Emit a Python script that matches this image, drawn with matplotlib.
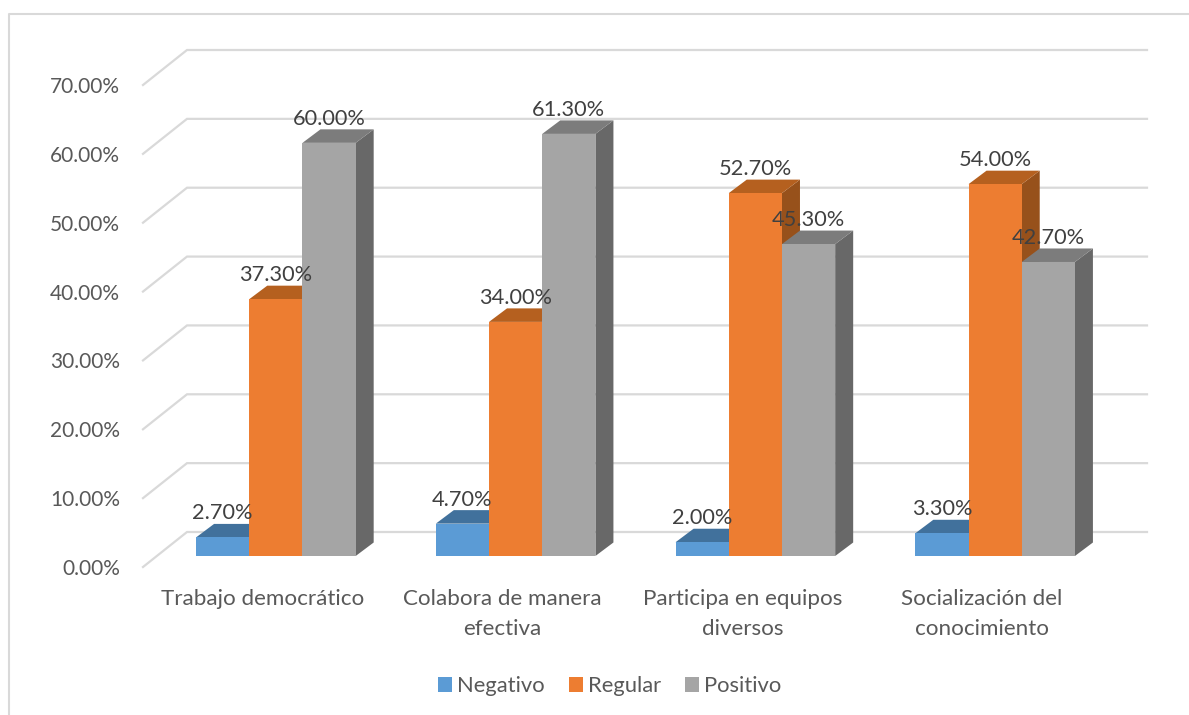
import matplotlib
matplotlib.use("Agg")
import matplotlib.pyplot as plt
from matplotlib.patches import Polygon, Patch
from matplotlib.lines import Line2D

categories = ["Trabajo democrático", "Colabora de manera\nefectiva",
              "Participa en equipos\ndiversos", "Socialización del\nconocimiento"]
series_names = ["Negativo", "Regular", "Positivo"]
negativo = [2.7, 4.7, 2.0, 3.3]
regular = [37.3, 34.0, 52.7, 54.0]
positivo = [60.0, 61.3, 45.3, 42.7]
y_ticks = [0, 10, 20, 30, 40, 50, 60, 70]

front_colors = ["#5B9BD5", "#ED7D31", "#A5A5A5"]
top_colors = ["#41719C", "#B5601F", "#7C7C7C"]
side_colors = ["#3A6590", "#97511B", "#686868"]
GRID = "#D9D9D9"
TICK = "#595959"
LABEL = "#404040"
FONT = "Lato"

W, H = 1189, 715
fig = plt.figure(figsize=(W / 100, H / 100), dpi=100, facecolor="white")
ax = fig.add_axes([143 / W, (H - 567) / H, 959 / W, 482 / H])
ax.set_xlim(-0.5, 3.5)
ax.set_ylim(0, 70)
ax.patch.set_visible(False)
for s in ax.spines.values():
    s.set_visible(False)

px_x = 4 / 959.0        # data units per pixel, horizontally
px_y = 70 / 482.0       # data units per pixel, vertically

# Chart frame (open on the right and the bottom of the picture)
fig.add_artist(Line2D([8.5 / W, 8.5 / W, 1], [0, (H - 14) / H, (H - 14) / H],
                      color="#D9D9D9", lw=1.5))

# Gridlines: along the floor of the box, then along the back wall
for t in y_ticks:
    ax.plot([-0.5, -0.5 + 44 * px_x, 3.5 + 45 * px_x],
            [t, t + 35 * px_y, t + 35 * px_y],
            color=GRID, lw=1.6, clip_on=False, zorder=1, solid_joinstyle="miter")

bar_w = 53.2 * px_x
off_x, off_y = 13 * px_x, 11 * px_y
dep_x, dep_y = 18 * px_x, 13.5 * px_y
all_series = [negativo, regular, positivo]

z = 2
for i in range(len(categories)):
    for j, vals in enumerate(all_series):
        v = vals[i]
        left = i + off_x + (j - 1.5) * bar_w
        right = left + bar_w
        base = off_y
        top = v + off_y
        ax.add_patch(Polygon([(right, base), (right + dep_x, base + dep_y),
                              (right + dep_x, top + dep_y), (right, top)],
                             fc=side_colors[j], ec="none", zorder=z, clip_on=False))
        ax.add_patch(Polygon([(left, top), (left + dep_x, top + dep_y),
                              (right + dep_x, top + dep_y), (right, top)],
                             fc=top_colors[j], ec="none", zorder=z, clip_on=False))
        ax.bar(left, v, bar_w, bottom=base, align="edge", color=front_colors[j],
               zorder=z + 0.5, clip_on=False)
        ax.annotate(f"{v:.2f}%", (left + bar_w / 2, top), xytext=(0, 24 * 0.72),
                    textcoords="offset points", ha="center", va="center",
                    color=LABEL, fontsize=15.7, family=FONT, zorder=50,
                    annotation_clip=False)
        z += 1

ax.set_xticks(range(len(categories)))
ax.set_xticklabels(categories, family=FONT, fontsize=16.1, color=TICK, linespacing=1.62)
ax.set_yticks(y_ticks)
ax.set_yticklabels([f"{t:.2f}%" for t in y_ticks], family=FONT, fontsize=15, color=TICK)
ax.tick_params(axis="x", length=0, pad=22 * 0.72)
ax.tick_params(axis="y", length=0, pad=23 * 0.72)

handles = [Patch(fc=c, ec="none", label=n) for c, n in zip(front_colors, series_names)]
leg = fig.legend(handles=handles, loc="center", bbox_to_anchor=(609.5 / W, (H - 686) / H),
                 ncol=3, frameon=False, handlelength=0.64, handleheight=0.64,
                 handletextpad=0.23, columnspacing=1.1,
                 prop={"family": FONT, "size": 15.8})
for t in leg.get_texts():
    t.set_color(TICK)

fig.savefig("out.png", dpi=100, facecolor="white")
